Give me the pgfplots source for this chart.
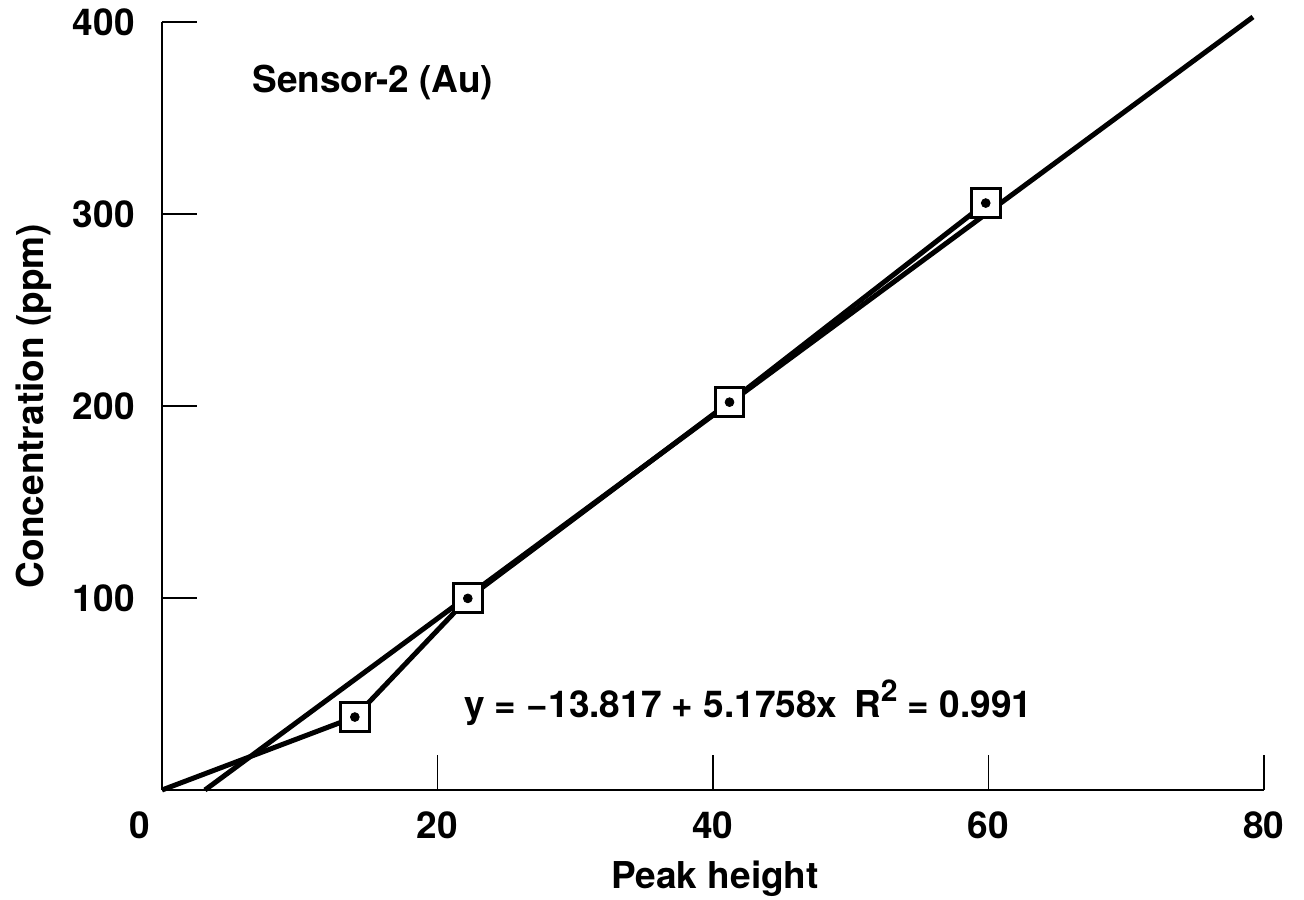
\documentclass[border=0pt]{standalone}
\usepackage{fontspec}
\setmainfont{TeX Gyre Heros}
\usepackage{pgfplots}
\pgfplotsset{compat=1.18}
\newcommand{\lbl}{\fontsize{18.5}{22}\selectfont\bfseries}
\begin{document}
\begin{tikzpicture}
\useasboundingbox (-81pt,-54.5pt) rectangle (571pt,395pt);
\begin{axis}[
  scale only axis, width=551pt, height=384pt,
  xmin=0, xmax=80, ymin=0, ymax=400,
  axis x line=bottom, axis y line=left,
  axis line style={-, line width=1.2pt, black},
  xtick={20,40,60,80}, ytick={100,200,300,400},
  extra x ticks={0},
  extra x tick style={major tick length=0pt, xticklabel style={xshift=-11pt}},
  tick align=inside, major tick length=17.5pt,
  tick style={line width=0.8pt, black},
  /pgf/number format/assume math mode=true,
  ticklabel style={font=\lbl},
  xticklabel style={anchor=base, inner sep=0pt, yshift=-24pt},
  yticklabel style={anchor=east, inner sep=0pt, xshift=-13.5pt},
  xlabel={Peak height},
  ylabel={Concentration (ppm)},
  label style={font=\lbl},
  xlabel style={at={(axis description cs:0.502,0)}, anchor=base, yshift=-49pt, inner sep=0pt},
  ylabel style={at={([xshift=-59pt]axis description cs:0,0.5)}, anchor=base, inner sep=0pt},
  clip=false,
]
% regression line
\addplot[line width=2.5pt, black] coordinates {(3.12,0) (79.2,402.6)};
% data line
\addplot[line width=2.5pt, black, line join=round] coordinates {(0,0) (14.0,38.0) (22.2,99.8) (41.2,202.0) (59.8,305.7)};
% square markers
\addplot[only marks, mark=square*, mark size=7.2pt, mark options={fill=white, draw=black, line width=1.5pt}] coordinates {(14.0,38.0) (22.2,99.8) (41.2,202.0) (59.8,305.7)};
% centre dots
\addplot[only marks, mark=*, mark size=2.2pt, black] coordinates {(14.0,38.0) (22.2,99.8) (41.2,202.0) (59.8,305.7)};
\node[anchor=base west, inner sep=0pt, font=\lbl] at (axis cs:6.53,363.5) {Sensor-2 (Au)};
\node[anchor=base west, inner sep=0pt, font=\lbl] at (axis cs:21.9,38) {y = −13.817 + 5.1758x\hspace{0.45em}R\raisebox{0.42em}{\fontsize{15}{15}\selectfont 2} = 0.991};
\end{axis}
\end{tikzpicture}
\end{document}
